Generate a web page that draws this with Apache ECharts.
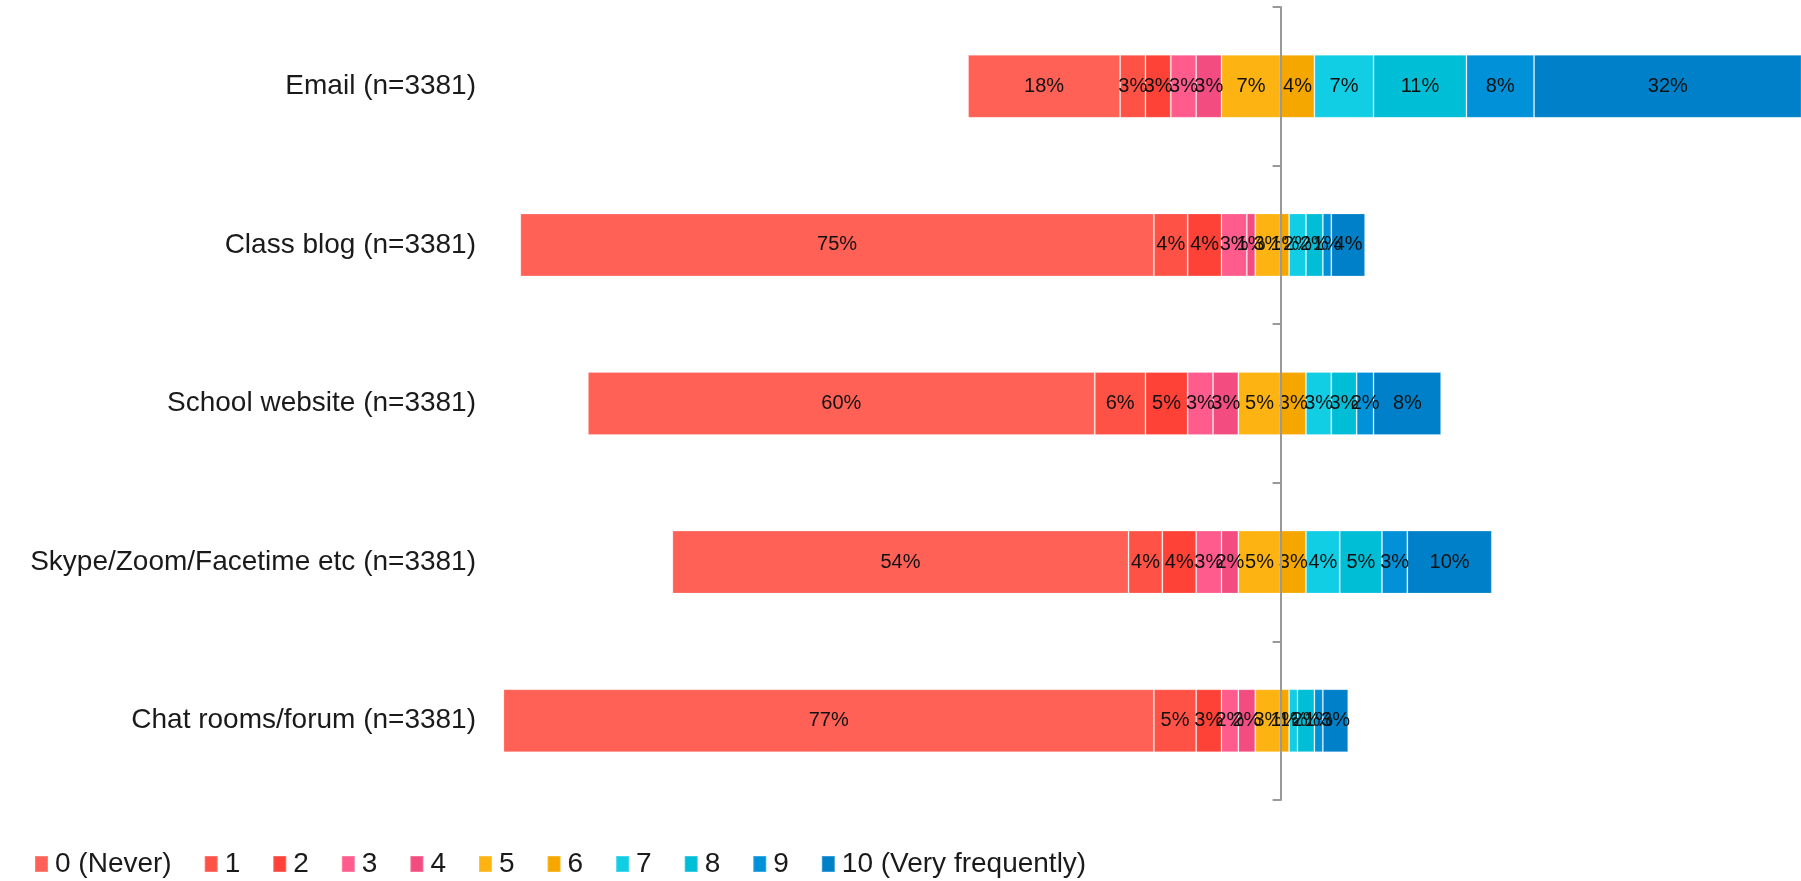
<!DOCTYPE html>
<html>
<head>
<meta charset="utf-8">
<title>Communication channels usage</title>
<script src="https://cdn.jsdelivr.net/npm/echarts@6/dist/echarts.min.js"></script>
<style>
  html, body { margin: 0; padding: 0; background: #ffffff; }
  #chart { width: 1801px; height: 881px; }
</style>
</head>
<body>
<div id="chart"></div>
<script>
// Channels (top to bottom)
const categories = [
  'Email (n=3381)',
  'Class blog (n=3381)',
  'School website (n=3381)',
  'Skype/Zoom/Facetime etc (n=3381)',
  'Chat rooms/forum (n=3381)'
];

// Rating labels, 0 = never ... 10 = very frequently
const ratingNames = ['0 (Never)', '1', '2', '3', '4', '5', '6', '7', '8', '9', '10 (Very frequently)'];

// Share of respondents (%) per rating, one array per rating
const r0  = [18, 75, 60, 54, 77];
const r1  = [3, 4, 6, 4, 5];
const r2  = [3, 4, 5, 4, 3];
const r3  = [3, 3, 3, 3, 2];
const r4  = [3, 1, 3, 2, 2];
const r5  = [7, 3, 5, 5, 3];
const r6  = [4, 1, 3, 3, 1];
const r7  = [7, 2, 3, 4, 1];
const r8  = [11, 2, 3, 5, 2];
const r9  = [8, 1, 2, 3, 1];
const r10 = [32, 4, 8, 10, 3];

const ratingValues = [r0, r1, r2, r3, r4, r5, r6, r7, r8, r9, r10];

const colors = [
  '#ff6157', '#ff5247', '#ff4238', '#ff5b8c', '#f24c80',
  '#fdb412', '#f5a700', '#12cee5', '#00bed5', '#0091d9', '#0080c8'
];

// Ratings 0-5 extend left of the centre line, 6-10 extend right.
// Series nearest the centre must come first in each stack side.
const order = [5, 4, 3, 2, 1, 0, 6, 7, 8, 9, 10];

const series = order.map(function (k) {
  const left = k <= 5;
  return {
    name: ratingNames[k],
    type: 'bar',
    stack: 'total',
    barWidth: 63,
    data: ratingValues[k].map(function (v) { return left ? -v : v; }),
    itemStyle: {
      color: colors[k],
      borderColor: 'rgba(255,255,255,0.22)',
      borderWidth: 1
    },
    label: {
      show: true,
      position: 'inside',
      color: '#111111',
      fontFamily: 'Liberation Sans',
      fontSize: 20,
      formatter: function (p) { return Math.abs(p.value) + '%'; }
    },
    emphasis: { disabled: true }
  };
});

const chart = echarts.init(document.getElementById('chart'), null, { renderer: 'canvas' });

chart.setOption({
  animation: false,
  backgroundColor: '#ffffff',
  color: colors,
  textStyle: { fontFamily: 'Liberation Sans' },
  grid: { left: 484, right: 0, top: 7, bottom: 81, containLabel: false },
  legend: {
    data: ratingNames,
    left: 29,
    top: 845,
    icon: 'rect',
    itemWidth: 13,
    itemHeight: 16,
    itemGap: 32,
    textStyle: {
      fontFamily: 'Liberation Sans',
      fontSize: 28,
      color: '#1a1a1a',
      padding: [0, 0, 0, 2]
    },
    selectedMode: false
  },
  xAxis: {
    type: 'value',
    min: -94.3,
    max: 61.6,
    show: false,
    splitLine: { show: false }
  },
  yAxis: [
    {
      // category labels along the left edge
      type: 'category',
      data: categories,
      inverse: true,
      position: 'left',
      axisLine: { show: false, onZero: false },
      axisTick: { show: false },
      axisLabel: {
        margin: 8,
        fontFamily: 'Liberation Sans',
        fontSize: 28,
        color: '#1a1a1a'
      }
    },
    {
      // centre line at zero with ticks between categories
      type: 'category',
      data: categories,
      inverse: true,
      position: 'left',
      z: 10,
      axisLine: { show: true, onZero: true, lineStyle: { color: '#999999', width: 2 } },
      axisTick: { show: true, length: 8, lineStyle: { color: '#999999', width: 2 } },
      axisLabel: { show: false },
      splitLine: { show: false }
    }
  ],
  series: series
});
</script>
</body>
</html>
